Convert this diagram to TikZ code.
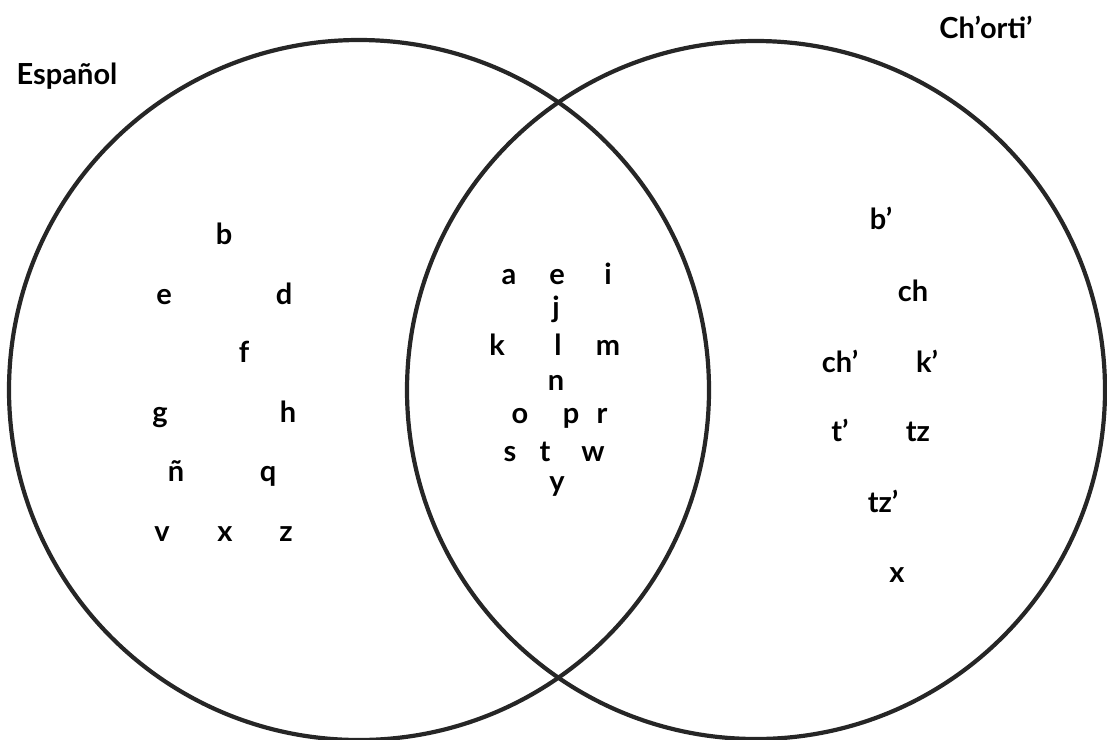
\documentclass[tikz,border=0pt]{standalone}
\usepackage{fontspec}
\setmainfont{Lato}
\begin{document}
\begin{tikzpicture}[x=1pt,y=-1pt,
  ring/.style={draw=black!85,line width=4.2pt},
  lt/.style={anchor=base,inner sep=0pt,font=\fontsize{29}{32}\selectfont\bfseries},
  ttl/.style={anchor=base,inner sep=0pt,font=\fontsize{29}{32}\selectfont\bfseries}]
\useasboundingbox (0,0) rectangle (1107,739);
\node[ring,circle,minimum size=700pt,inner sep=0pt] (esp) at (359,390) {};
\node[ring,circle,minimum size=698pt,inner sep=0pt] (cho) at (756,390) {};
\node[ttl] (tEsp) at (67,84) {Español};
\node[ttl] (tCho) at (986,38) {Ch’orti’};
% Spanish only
\node[lt] (sb) at (224,244) {b};
\node[lt] (se) at (164,304) {e};
\node[lt] (sd) at (284,304) {d};
\node[lt] (sf) at (244,362) {f};
\node[lt] (sg) at (160,422) {g};
\node[lt] (sh) at (288,422) {h};
\node[lt] (sn) at (176,481) {ñ};
\node[lt] (sq) at (268,481) {q};
\node[lt] (sv) at (162,541) {v};
\node[lt] (sx) at (225,541) {x};
\node[lt] (sz) at (286,541) {z};
% shared
\node[lt] (ca) at (509,284) {a};
\node[lt] (ce) at (557,284) {e};
\node[lt] (ci) at (608,284) {i};
\node[lt] (cj) at (556,317) {j};
\node[lt] (ck) at (497,355) {k};
\node[lt] (cl) at (558,355) {l};
\node[lt] (cm) at (608,355) {m};
\node[lt] (cn) at (556,390) {n};
\node[lt] (co) at (520,423) {o};
\node[lt] (cp) at (571,423) {p};
\node[lt] (cr) at (602,423) {r};
\node[lt] (cs) at (510,461) {s};
\node[lt] (ct) at (545,461) {t};
\node[lt] (cw) at (593,461) {w};
\node[lt] (cy) at (557,491) {y};
% Ch'orti' only
\node[lt] (rb) at (881,229) {b’};
\node[lt] (rch) at (913,301) {ch};
\node[lt] (rchq) at (840,372) {ch’};
\node[lt] (rk) at (927,372) {k’};
\node[lt] (rt) at (840,441) {t’};
\node[lt] (rtz) at (918,441) {tz};
\node[lt] (rtzq) at (883,512) {tz’};
\node[lt] (rx) at (897,582) {x};
\end{tikzpicture}
\end{document}
